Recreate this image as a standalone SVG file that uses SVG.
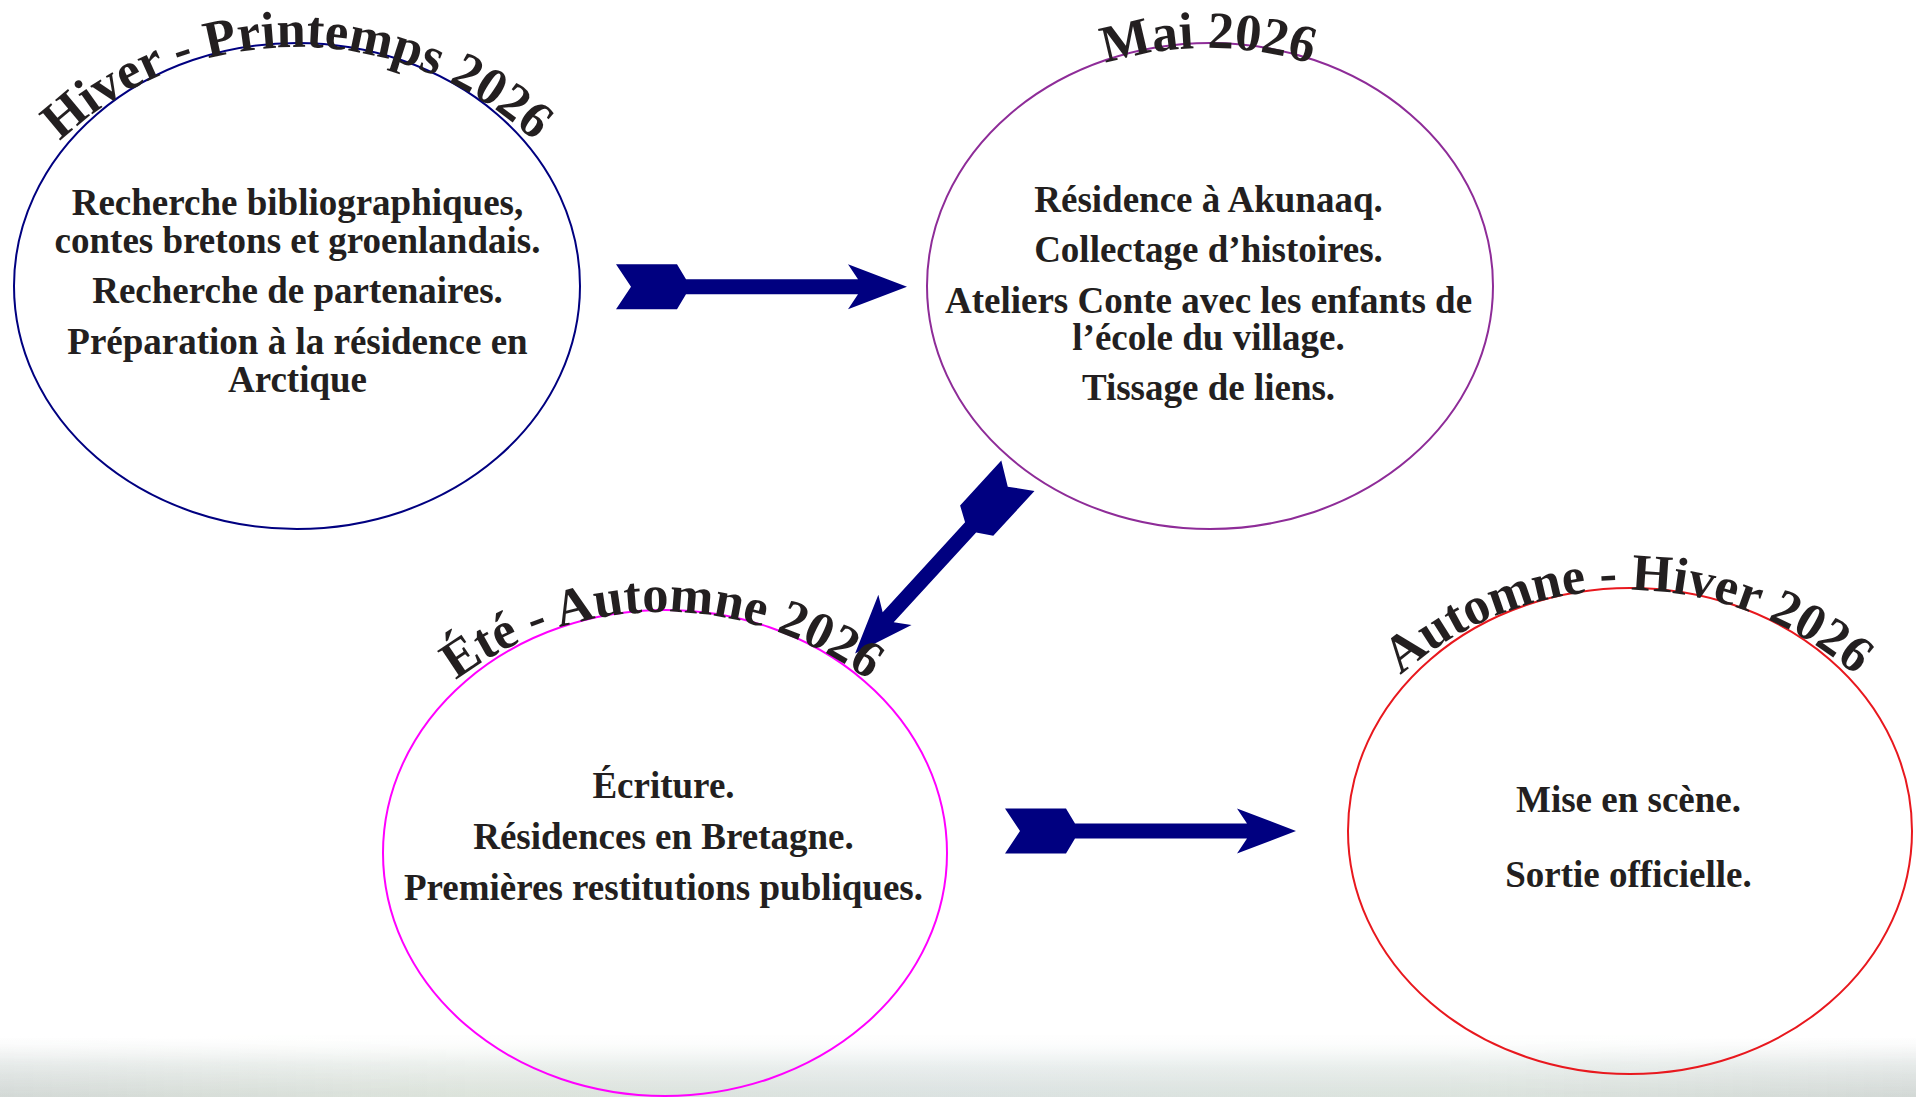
<svg xmlns="http://www.w3.org/2000/svg" width="1916" height="1097" viewBox="0 0 1916 1097">
  <defs>
    <style>
      .body { font-family: "Liberation Serif", "Times New Roman", serif; font-weight: bold; font-size: 37px; fill: #231f20; text-anchor: middle; }
      .title { font-family: "Liberation Serif", "Times New Roman", serif; font-weight: bold; font-size: 52.5px; fill: #231f20; }
      .ring { fill: none; stroke-width: 2; }
      .arrow { fill: #000080; }
    </style>
    <linearGradient id="bg" x1="0" y1="0" x2="0" y2="1">
      <stop offset="0" stop-color="#ffffff" stop-opacity="0"/>
      <stop offset="0.45" stop-color="#eef2f1"/>
      <stop offset="1" stop-color="#d9e0dc"/>
    </linearGradient>
    <linearGradient id="bgh" x1="0" y1="0" x2="1" y2="0">
      <stop offset="0" stop-color="#c9cccc" stop-opacity="0.35"/>
      <stop offset="0.25" stop-color="#e3ead6" stop-opacity="0.25"/>
      <stop offset="0.5" stop-color="#dfe6ee" stop-opacity="0.25"/>
      <stop offset="0.75" stop-color="#e0eadf" stop-opacity="0.25"/>
      <stop offset="1" stop-color="#c8cbcb" stop-opacity="0.35"/>
    </linearGradient>
    <linearGradient id="fade" x1="0" y1="0" x2="0" y2="1">
      <stop offset="0" stop-color="#fff" stop-opacity="0"/>
      <stop offset="1" stop-color="#fff" stop-opacity="1"/>
    </linearGradient>
    <mask id="fadeMask">
      <rect x="0" y="1035" width="1916" height="62" fill="url(#fade)"/>
    </mask>
    <path id="arc1" d="M -42.76 332.09 A 345 345 0 0 1 636.76 332.09"/>
    <path id="arc2" d="M 868.24 333.09 A 345 345 0 0 1 1547.76 333.09"/>
    <path id="arc3" d="M 322.24 897.09 A 345 345 0 0 1 1001.76 897.09"/>
    <path id="arc4" d="M 1288.24 875.09 A 345 345 0 0 1 1967.76 875.09"/>
    <path id="longArrow" d="M 0 -22.5 L 61 -22.5 L 70 -7.5 L 242 -7.5 L 232 -22.5 L 291 0 L 232 22.5 L 242 7.5 L 70 7.5 L 61 22.5 L 0 22.5 L 15 0 Z"/>
  </defs>

  <rect x="0" y="0" width="1916" height="1097" fill="#ffffff"/>
  <g id="background">
    <rect x="0" y="1035" width="1916" height="62" fill="url(#bg)"/>
    <rect x="0" y="1035" width="1916" height="62" fill="url(#bgh)" mask="url(#fadeMask)"/>
  </g>

  <g id="connectors">
    <use href="#longArrow" class="arrow" transform="translate(616,286.7)"/>
    <path class="arrow" transform="translate(1017.9,475.7) rotate(132.5)" d="M 0 -22.5 L 61 -22.5 L 70 -7.5 L 192 -7.5 L 182 -22.5 L 241 0 L 182 22.5 L 192 7.5 L 70 7.5 L 61 22.5 L 0 22.5 L 15 0 Z"/>
    <use href="#longArrow" class="arrow" transform="translate(1005,831)"/>
  </g>

  <g id="node-hiver-printemps">
    <ellipse class="ring" cx="297" cy="286" rx="283" ry="243" stroke="#000080"/>
    <text class="title"><textPath href="#arc1" startOffset="50%" text-anchor="middle">Hiver - Printemps 2026</textPath></text>
    <text class="body" x="297.5" y="215">Recherche bibliographiques,</text>
    <text class="body" x="297.5" y="253">contes bretons et groenlandais.</text>
    <text class="body" x="297.5" y="303">Recherche de partenaires.</text>
    <text class="body" x="297.5" y="354">Préparation à la résidence en</text>
    <text class="body" x="297.5" y="392">Arctique</text>
  </g>

  <g id="node-mai">
    <ellipse class="ring" cx="1210" cy="286" rx="283" ry="243" stroke="#8e2c98"/>
    <text class="title"><textPath href="#arc2" startOffset="50%" text-anchor="middle">Mai 2026</textPath></text>
    <text class="body" x="1208.5" y="212">Résidence à Akunaaq.</text>
    <text class="body" x="1208.5" y="262">Collectage d’histoires.</text>
    <text class="body" x="1208.5" y="313">Ateliers Conte avec les enfants de</text>
    <text class="body" x="1208.5" y="350">l’école du village.</text>
    <text class="body" x="1208.5" y="400">Tissage de liens.</text>
  </g>

  <g id="node-ete-automne">
    <ellipse class="ring" cx="665" cy="853" rx="282" ry="243" stroke="#ff00ff"/>
    <text class="title"><textPath href="#arc3" startOffset="50%" text-anchor="middle">Été - Automne 2026</textPath></text>
    <text class="body" x="663.5" y="798">Écriture.</text>
    <text class="body" x="663.5" y="849">Résidences en Bretagne.</text>
    <text class="body" x="663.5" y="900">Premières restitutions publiques.</text>
  </g>

  <g id="node-automne-hiver">
    <ellipse class="ring" cx="1630" cy="831" rx="282" ry="243" stroke="#e8181e"/>
    <text class="title"><textPath href="#arc4" startOffset="50%" text-anchor="middle">Automne - Hiver 2026</textPath></text>
    <text class="body" x="1628.5" y="812">Mise en scène.</text>
    <text class="body" x="1628.5" y="887">Sortie officielle.</text>
  </g>
</svg>
